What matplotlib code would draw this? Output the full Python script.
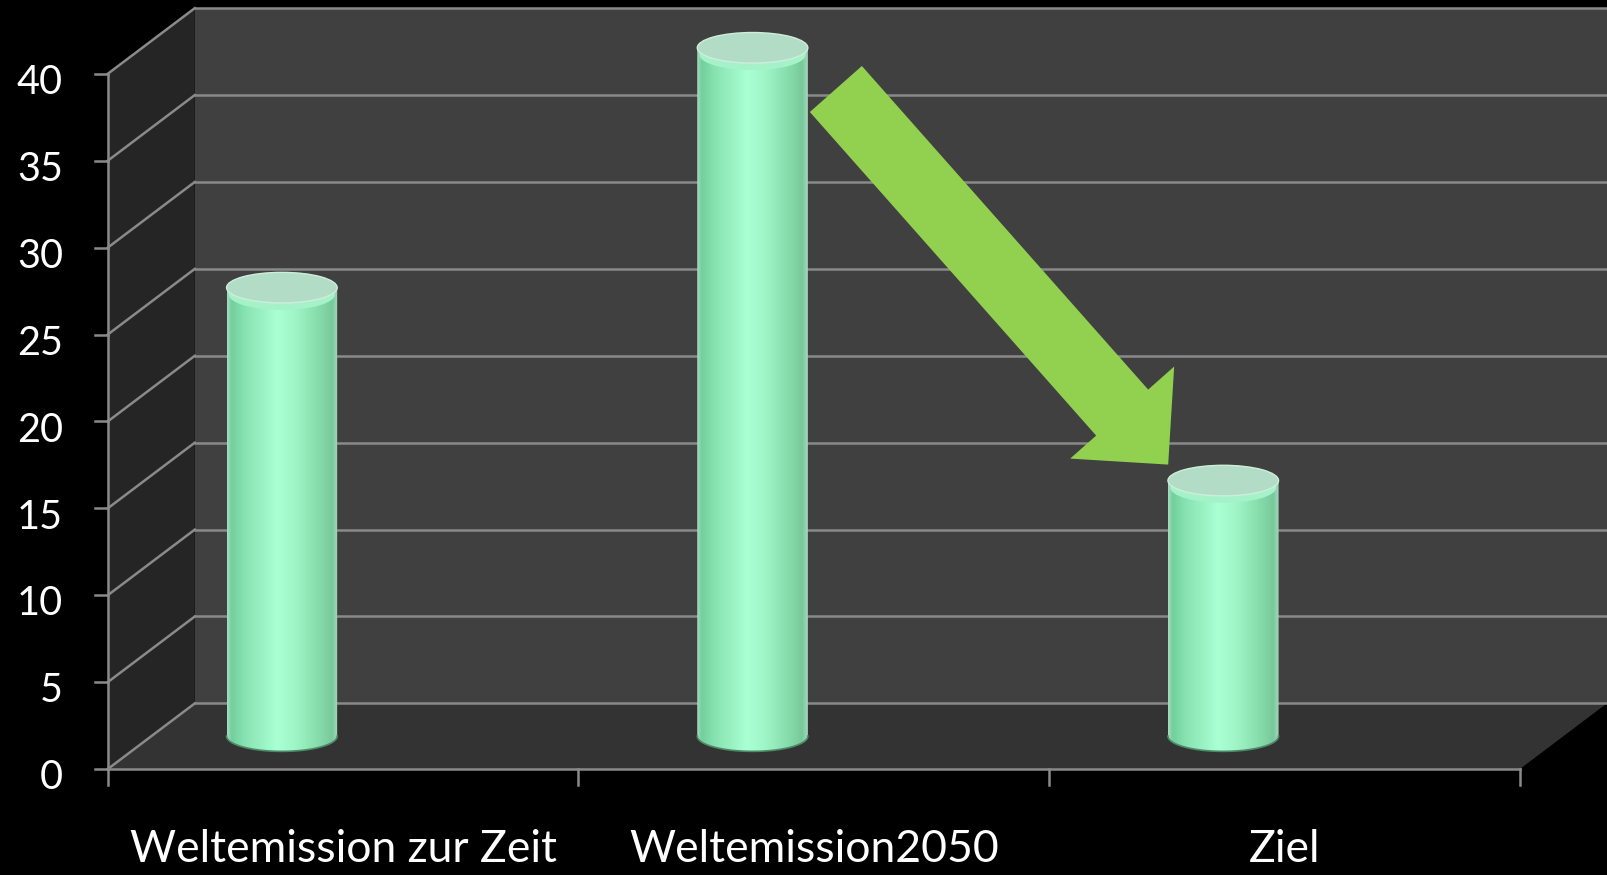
import numpy as np
import matplotlib
matplotlib.use("Agg")
import matplotlib.pyplot as plt
from matplotlib.patches import Polygon, Ellipse
from matplotlib.colors import LinearSegmentedColormap

plt.rcParams['font.family'] = ['Lato', 'DejaVu Sans']

# data
categories = ["Weltemission zur Zeit", "Weltemission2050", "Ziel"]
values = [25.8, 39.6, 14.7]
y_ticks = [0, 5, 10, 15, 20, 25, 30, 35, 40]

# 3d look
depth_dx = 0.185      # back wall shift (category units)
depth_dy = 3.78       # back wall shift (value units)
cyl_shift = -0.13     # cylinder center relative to category center
cyl_base = 1.9        # cylinder base sits in the middle of the floor
cyl_w = 0.235
cyl_eh = 0.88         # half height of the end ellipses

wall_col = "#404040"
floor_col = "#333333"
side_col = "#252525"
grid_col = "#8a8a8a"

fig = plt.figure(figsize=(16.08, 8.75), dpi=100, facecolor="black")
ax = fig.add_axes([0, 0, 1, 1])
ax.set_facecolor("black")
ax.axis("off")

n = len(categories)
x0, x1 = -0.5, n - 0.5
ymax = y_ticks[-1]

# back wall, floor, side wall
ax.add_patch(Polygon([(x0 + depth_dx, depth_dy), (x1 + depth_dx, depth_dy),
                      (x1 + depth_dx, ymax + depth_dy), (x0 + depth_dx, ymax + depth_dy)],
                     closed=True, fc=wall_col, ec="none", zorder=1))
ax.add_patch(Polygon([(x0, 0), (x1, 0), (x1 + depth_dx, depth_dy), (x0 + depth_dx, depth_dy)],
                     closed=True, fc=floor_col, ec="none", zorder=1))
ax.add_patch(Polygon([(x0, 0), (x0, ymax), (x0 + depth_dx, ymax + depth_dy), (x0 + depth_dx, depth_dy)],
                     closed=True, fc=side_col, ec="none", zorder=1))

# gridlines on back wall and side wall
for t in y_ticks:
    ax.plot([x0 + depth_dx, x1 + depth_dx], [t + depth_dy, t + depth_dy], color=grid_col, lw=1.8, zorder=2)
    ax.plot([x0, x0 + depth_dx], [t, t + depth_dy], color=grid_col, lw=1.8, zorder=2)
    ax.plot([x0 - 0.026, x0], [t, t], color=grid_col, lw=1.8, zorder=2)
    ax.text(x0 - 0.095, t - 0.5, str(t), color="white", fontsize=28.5, ha="right", va="center")

# axes lines
ax.plot([x0, x0], [0, ymax], color=grid_col, lw=1.8, zorder=2)
ax.plot([x0, x1], [0, 0], color=grid_col, lw=1.8, zorder=2)
for k in range(n + 1):
    ax.plot([x0 + k, x0 + k], [0, -0.9], color=grid_col, lw=1.8, zorder=2)

for i, c in enumerate(categories):
    ax.text(i, -5.34, c, color="white", fontsize=32, ha="center", va="baseline")

# cylinders
cmap = LinearSegmentedColormap.from_list("cyl", [
    (0.0, "#a8dcc2"), (0.04, "#72cf9c"), (0.15, "#86e2b0"), (0.45, "#aaffd3"),
    (0.6, "#a2f7c9"), (0.85, "#84d9a9"), (0.95, "#78c99b"), (1.0, "#a6d8be")])
grad = np.linspace(0, 1, 256).reshape(1, -1)

for i, v in enumerate(values):
    cx = i + cyl_shift
    left, right = cx - cyl_w / 2, cx + cyl_w / 2
    top = cyl_base + v
    t = np.linspace(np.pi, 2 * np.pi, 80)
    xs = cx + cyl_w / 2 * np.cos(t)
    ys = cyl_base + cyl_eh * np.sin(t)
    verts = list(zip(xs, ys)) + [(right, top), (left, top)]
    body = Polygon(verts, closed=True, fc="none", ec="none")
    ax.add_patch(body)
    im = ax.imshow(grad, cmap=cmap, extent=(left, right, cyl_base - cyl_eh, top),
                   aspect="auto", origin="lower", zorder=3, interpolation="bilinear")
    im.set_clip_path(body)
    ax.plot(xs, ys, color="#4c8a68", lw=1.2, zorder=3.5)
    # bright band under the lid
    ax.add_patch(Ellipse((cx, top - 0.4), cyl_w * 0.96, 2 * cyl_eh, fc="#a6f2c8", ec="none", zorder=3.6))
    ax.add_patch(Ellipse((cx, top), cyl_w, 2 * cyl_eh, fc="#b2dcc6", ec="#cdeedd", lw=1.0, zorder=4))

# arrow from bar 2 down to bar 3
ax.annotate("", xy=(2 + cyl_shift - 0.117, values[2] + cyl_base + 0.92),
            xytext=(1 + cyl_shift + 0.177, values[1] + cyl_base - 2.37),
            arrowprops=dict(arrowstyle="simple,head_length=0.5,head_width=1.0,tail_width=0.5",
                            mutation_scale=100, fc="#92d050", ec="none", shrinkA=0, shrinkB=0),
            zorder=5)

ax.set_xlim(-0.7288, 2.6874)
ax.set_ylim(-6.093, 44.25)

fig.savefig("out.png", dpi=100, facecolor="black")
